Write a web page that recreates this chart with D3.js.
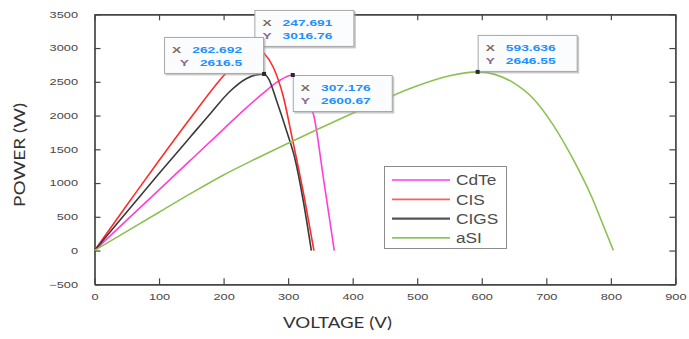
<!DOCTYPE html>
<html>
<head>
<meta charset="utf-8">
<script src="https://cdn.jsdelivr.net/npm/d3@7"></script>
<style>
  html, body { margin: 0; padding: 0; background: #fff; }
  svg { display: block; }
</style>
</head>
<body>
<svg id="chart" width="689" height="339"></svg>
<script>
// P-V curves of four thin-film PV technologies: [voltage (V), power (W)]
const seriesNames = ["CdTe", "CIS", "CIGS", "aSI"];

const cdte = [[0, 0], [50, 450], [100, 900], [150, 1350], [200, 1800], [230, 2070],
  [260, 2320], [285, 2510], [307.176, 2600.67], [320, 2470], [330, 2270], [340, 1990],
  [355, 1050], [371.5, 0]];

const cis = [[0, 0], [50, 670], [100, 1335], [150, 1980], [200, 2590], [230, 2880],
  [247.691, 3016.76], [262, 2930], [277, 2716], [292, 2300], [306, 1680], [326, 740],
  [340, 0]];

const cigs = [[0, 0], [50, 570], [100, 1140], [150, 1700], [180, 2035], [210, 2360],
  [235, 2545], [262.692, 2616.5], [270, 2540], [282, 2222], [298, 1760], [310, 1380],
  [323, 760], [336, 0]];

const asi = [[0, 0], [50, 285], [100, 568], [150, 850], [200, 1120], [250, 1360],
  [300, 1590], [350, 1815], [400, 2035], [450, 2245], [500, 2440], [550, 2590],
  [593.636, 2646.55], [620, 2610], [650, 2480], [680, 2250], [710, 1870], [740, 1380],
  [770, 800], [790, 330], [804, 0]];

const xTicks = [0, 100, 200, 300, 400, 500, 600, 700, 800, 900];
const yTicks = [-500, 0, 500, 1000, 1500, 2000, 2500, 3000, 3500];

const xTitle = "VOLTAGE (V)";
const yTitle = "POWER (W)";

// ---- styling ----
const seriesData = [cdte, cis, cigs, asi];
const lineColors = ["#ff3fd8", "#ff2b2b", "#3a3a3a", "#8cc152"];
const keyColors = ["#ff6cf2", "#ff5c5c", "#555555", "#92c45c"];
const tipCorner = ["se", "ne", "nw", "ne"];   // where the datatip box sits relative to its point

const svg = d3.select("#chart");
svg.append("rect").attr("width", 689).attr("height", 339).attr("fill", "#fff");

const plot = { left: 94.5, right: 675.4, top: 14.3, bottom: 284.3 };

const x = d3.scaleLinear().domain([0, 900]).range([plot.left, plot.right]);
const y = d3.scaleLinear().domain([-500, 3500]).range([plot.bottom, plot.top]);

const tickFont = "'Liberation Sans', Arial, sans-serif";
const sx = 1.42;   // horizontal stretch of tick text

// axes: ticks point inward on all four sides
const axisColor = "#454545";
function styleAxis(g) {
  g.select(".domain").attr("stroke", axisColor).attr("stroke-width", 1.7);
  g.selectAll(".tick line").attr("stroke", axisColor).attr("stroke-width", 1.2);
}

const gx = svg.append("g").attr("transform", `translate(0,${plot.bottom})`)
  .call(d3.axisBottom(x).tickValues(xTicks).tickSize(-6).tickSizeOuter(0).tickPadding(9).tickFormat(d3.format("d")));
gx.call(styleAxis);
gx.selectAll(".tick text")
  .attr("font-family", tickFont).attr("font-size", 9).attr("fill", "#474747")
  .attr("y", 9).attr("transform", `scale(${sx},1)`);

const gy = svg.append("g").attr("transform", `translate(${plot.left},0)`)
  .call(d3.axisLeft(y).tickValues(yTicks).tickSize(-6).tickSizeOuter(0).tickFormat(d3.format("d")));
gy.call(styleAxis);
gy.selectAll(".tick text")
  .attr("font-family", tickFont).attr("font-size", 9).attr("fill", "#474747")
  .attr("x", -16.5 / sx).attr("transform", `scale(${sx},1)`);

const gt = svg.append("g").attr("transform", `translate(0,${plot.top})`)
  .call(d3.axisTop(x).tickValues(xTicks).tickSize(-6).tickSizeOuter(0).tickFormat(""));
gt.call(styleAxis);

const gr = svg.append("g").attr("transform", `translate(${plot.right},0)`)
  .call(d3.axisRight(y).tickValues(yTicks).tickSize(-6).tickSizeOuter(0).tickFormat(""));
gr.call(styleAxis);

// axis titles
const titleFont = "Lato, 'Open Sans', sans-serif";
svg.append("text")
  .attr("x", 283).attr("y", 328)
  .attr("font-family", titleFont).attr("font-size", 15.5).attr("fill", "#333")
  .attr("textLength", 109).attr("lengthAdjust", "spacingAndGlyphs")
  .text(xTitle);
svg.append("text")
  .attr("transform", "translate(25,207) rotate(-90)")
  .attr("font-family", titleFont).attr("font-size", 15.5).attr("fill", "#333")
  .attr("textLength", 104).attr("lengthAdjust", "spacingAndGlyphs")
  .text(yTitle);

// curves
const line = d3.line().x(d => x(d[0])).y(d => y(d[1])).curve(d3.curveMonotoneX);
svg.append("g").selectAll("path")
  .data(seriesData)
  .join("path")
  .attr("d", line)
  .attr("fill", "none")
  .attr("stroke", (d, i) => lineColors[i])
  .attr("stroke-width", 1.6)
  .attr("stroke-linejoin", "round");

// legend
const legend = svg.append("g");
legend.append("rect")
  .attr("x", 384.5).attr("y", 166.5).attr("width", 122).attr("height", 82)
  .attr("fill", "#fff").attr("stroke", "#8c8c8c").attr("stroke-width", 1);
seriesNames.forEach((name, i) => {
  const cy = 180 + i * 19.3;
  legend.append("line")
    .attr("x1", 392).attr("x2", 450).attr("y1", cy).attr("y2", cy)
    .attr("stroke", keyColors[i]).attr("stroke-width", i === 2 ? 2.4 : 1.8);
  legend.append("text")
    .attr("transform", `translate(456,${cy + 5.2}) scale(1.15,1)`)
    .attr("font-family", tickFont).attr("font-size", 15).attr("fill", "#4d4d4d")
    .text(name);
});

// datatips at each curve's maximum
const fmt = v => String(+v.toPrecision(6));
const boxW = 100, boxH = 37;
const tipFont = "'Liberation Sans', Arial, sans-serif";
const tipSx = 1.45;
const tips = svg.append("g");

seriesData.forEach((data, i) => {
  const peak = d3.greatest(data, d => d[1]);
  const px = x(peak[0]), py = y(peak[1]);
  const c = tipCorner[i];
  const bx = c.includes("w") ? px - boxW : px;
  const by = c.includes("n") ? py - boxH : py;

  const g = tips.append("g");
  g.append("rect")
    .attr("x", bx + 1.5).attr("y", by + 1.5).attr("width", boxW).attr("height", boxH)
    .attr("fill", "#9a9a9a").attr("opacity", 0.55);
  g.append("rect")
    .attr("x", bx + 0.5).attr("y", by + 0.5).attr("width", boxW - 1).attr("height", boxH - 1)
    .attr("fill", "#fbfcfe").attr("stroke", "#a8a8a8").attr("stroke-width", 1);

  const rows = [["X", peak[0], "#7d6a55", 16], ["Y", peak[1], "#8a6690", 29]];
  rows.forEach(([lab, val, labColor, dy]) => {
    const vt = g.append("text")
      .attr("transform", `translate(${bx + boxW - 22},${by + dy}) scale(${tipSx},1)`)
      .attr("text-anchor", "end")
      .attr("font-family", tipFont).attr("font-size", 9.5).attr("font-weight", "bold")
      .attr("fill", "#1e90ff")
      .text(fmt(val));
    const w = vt.node().getComputedTextLength() * tipSx;
    g.append("text")
      .attr("transform", `translate(${bx + boxW - 22 - w - 11},${by + dy}) scale(${tipSx},1)`)
      .attr("text-anchor", "end")
      .attr("font-family", tipFont).attr("font-size", 9.5).attr("font-weight", "bold")
      .attr("fill", labColor)
      .text(lab);
  });

  // datatip marker
  g.append("rect")
    .attr("x", px - 2).attr("y", py - 2).attr("width", 4).attr("height", 4)
    .attr("fill", "#2a2a2a");
});
</script>
</body>
</html>
